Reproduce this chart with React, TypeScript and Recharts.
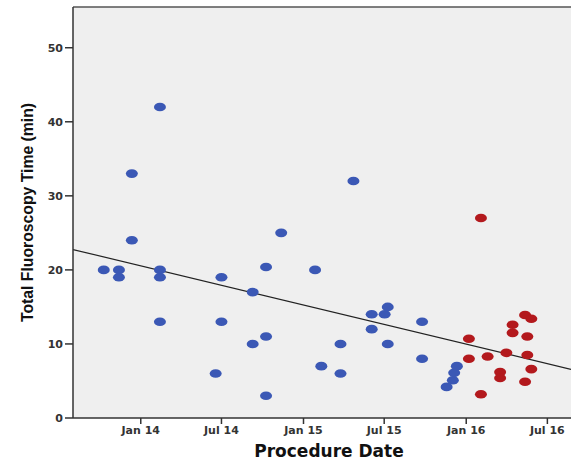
import { ScatterChart, Scatter, XAxis, YAxis, CartesianGrid, ReferenceLine } from "recharts";

// x = procedure day, counted from 1 Jan 2014
const blueDays = [-83, -49, -49, -20, -20, 43, 43, 43, 43, 181, 181, 168, 251, 251, 281, 281, 281, 315, 391, 405, 448, 448, 477, 518, 518, 547, 554, 554, 631, 631, 686, 700, 703, 709];
const blueMinutes = [20, 20, 19, 33, 24, 42, 20, 19, 13, 19, 13, 6, 17, 10, 20.4, 11, 3, 25, 20, 7, 10, 6, 32, 14, 12, 14, 15, 10, 13, 8, 4.2, 5.1, 6.1, 7.0];

const redDays = [736, 736, 763, 763, 778, 806, 806, 820, 834, 834, 862, 876, 867, 867, 876, 862];
const redMinutes = [10.7, 8, 27, 3.2, 8.3, 6.2, 5.4, 8.8, 12.6, 11.5, 13.9, 13.4, 11.0, 8.5, 6.6, 4.9];

const tickDays = [0, 181, 365, 546, 730, 912];
const tickLabels = ["Jan 14", "Jul 14", "Jan 15", "Jul 15", "Jan 16", "Jul 16"];
const yTicks = [0, 10, 20, 30, 40, 50];

// linear fit line (minutes = intercept + slope * day)
const fitIntercept = 20.55;
const fitSlope = -0.01448;

const xDomain = [-152, 965];
const yDomain = [0, 55.5];

const blueData = blueDays.map((d, i) => ({ day: d, min: blueMinutes[i] }));
const redData = redDays.map((d, i) => ({ day: d, min: redMinutes[i] }));

const dot = (color: string) => (props: any) => (
  <ellipse cx={props.cx} cy={props.cy} rx={6} ry={4.3} fill={color} />
);

const tickStyle = { fill: "#333", fontSize: 11, fontFamily: "DejaVu Sans", fontWeight: 600 };

const YLabel = (props: any) => {
  const { viewBox } = props;
  const cx = 27;
  const cy = viewBox.y + viewBox.height / 2;
  return (
    <text
      x={cx}
      y={cy}
      transform={`rotate(-90, ${cx}, ${cy})`}
      textAnchor="middle"
      dominantBaseline="central"
      textLength={219}
      lengthAdjust="spacingAndGlyphs"
      fill="#111"
      fontSize={17}
      fontWeight="bold"
      fontFamily="Liberation Sans"
    >
      Total Fluoroscopy Time (min)
    </text>
  );
};

export default function App() {
  return (
    <div style={{ position: "absolute", left: 0, top: 0, width: 571, height: 460, background: "#fff" }}>
      <ScatterChart width={571} height={460} margin={{ top: 7, right: 0, left: 0, bottom: 0 }}>
        <CartesianGrid fill="#efefef" horizontal={false} vertical={false} />
        <XAxis
          type="number"
          dataKey="day"
          domain={xDomain}
          allowDataOverflow
          ticks={tickDays}
          tickFormatter={(v: number) => tickLabels[tickDays.indexOf(v)]}
          height={42}
          tickSize={6}
          tick={tickStyle}
          stroke="#333"
          strokeWidth={1.5}
          label={{ value: "Procedure Date", position: "insideBottom", offset: 3, dx: 7, style: { fill: "#111", fontSize: 17, fontWeight: "bold", fontFamily: "DejaVu Sans" } }}
        />
        <YAxis
          type="number"
          dataKey="min"
          domain={yDomain}
          allowDataOverflow
          ticks={yTicks}
          width={73}
          tickSize={8}
          tickMargin={2}
          tick={tickStyle}
          stroke="#333"
          strokeWidth={1.5}
          label={<YLabel />}
        />
        <ReferenceLine y={yDomain[1]} stroke="#555" strokeWidth={1.5} />
        <ReferenceLine
          segment={[
            { x: xDomain[0], y: fitIntercept + fitSlope * xDomain[0] },
            { x: xDomain[1], y: fitIntercept + fitSlope * xDomain[1] },
          ]}
          stroke="#222"
          strokeWidth={1.2}
          ifOverflow="hidden"
        />
        <Scatter data={blueData} shape={dot("#3b58b5")} isAnimationActive={false} />
        <Scatter data={redData} shape={dot("#b3191d")} isAnimationActive={false} />
      </ScatterChart>
    </div>
  );
}
